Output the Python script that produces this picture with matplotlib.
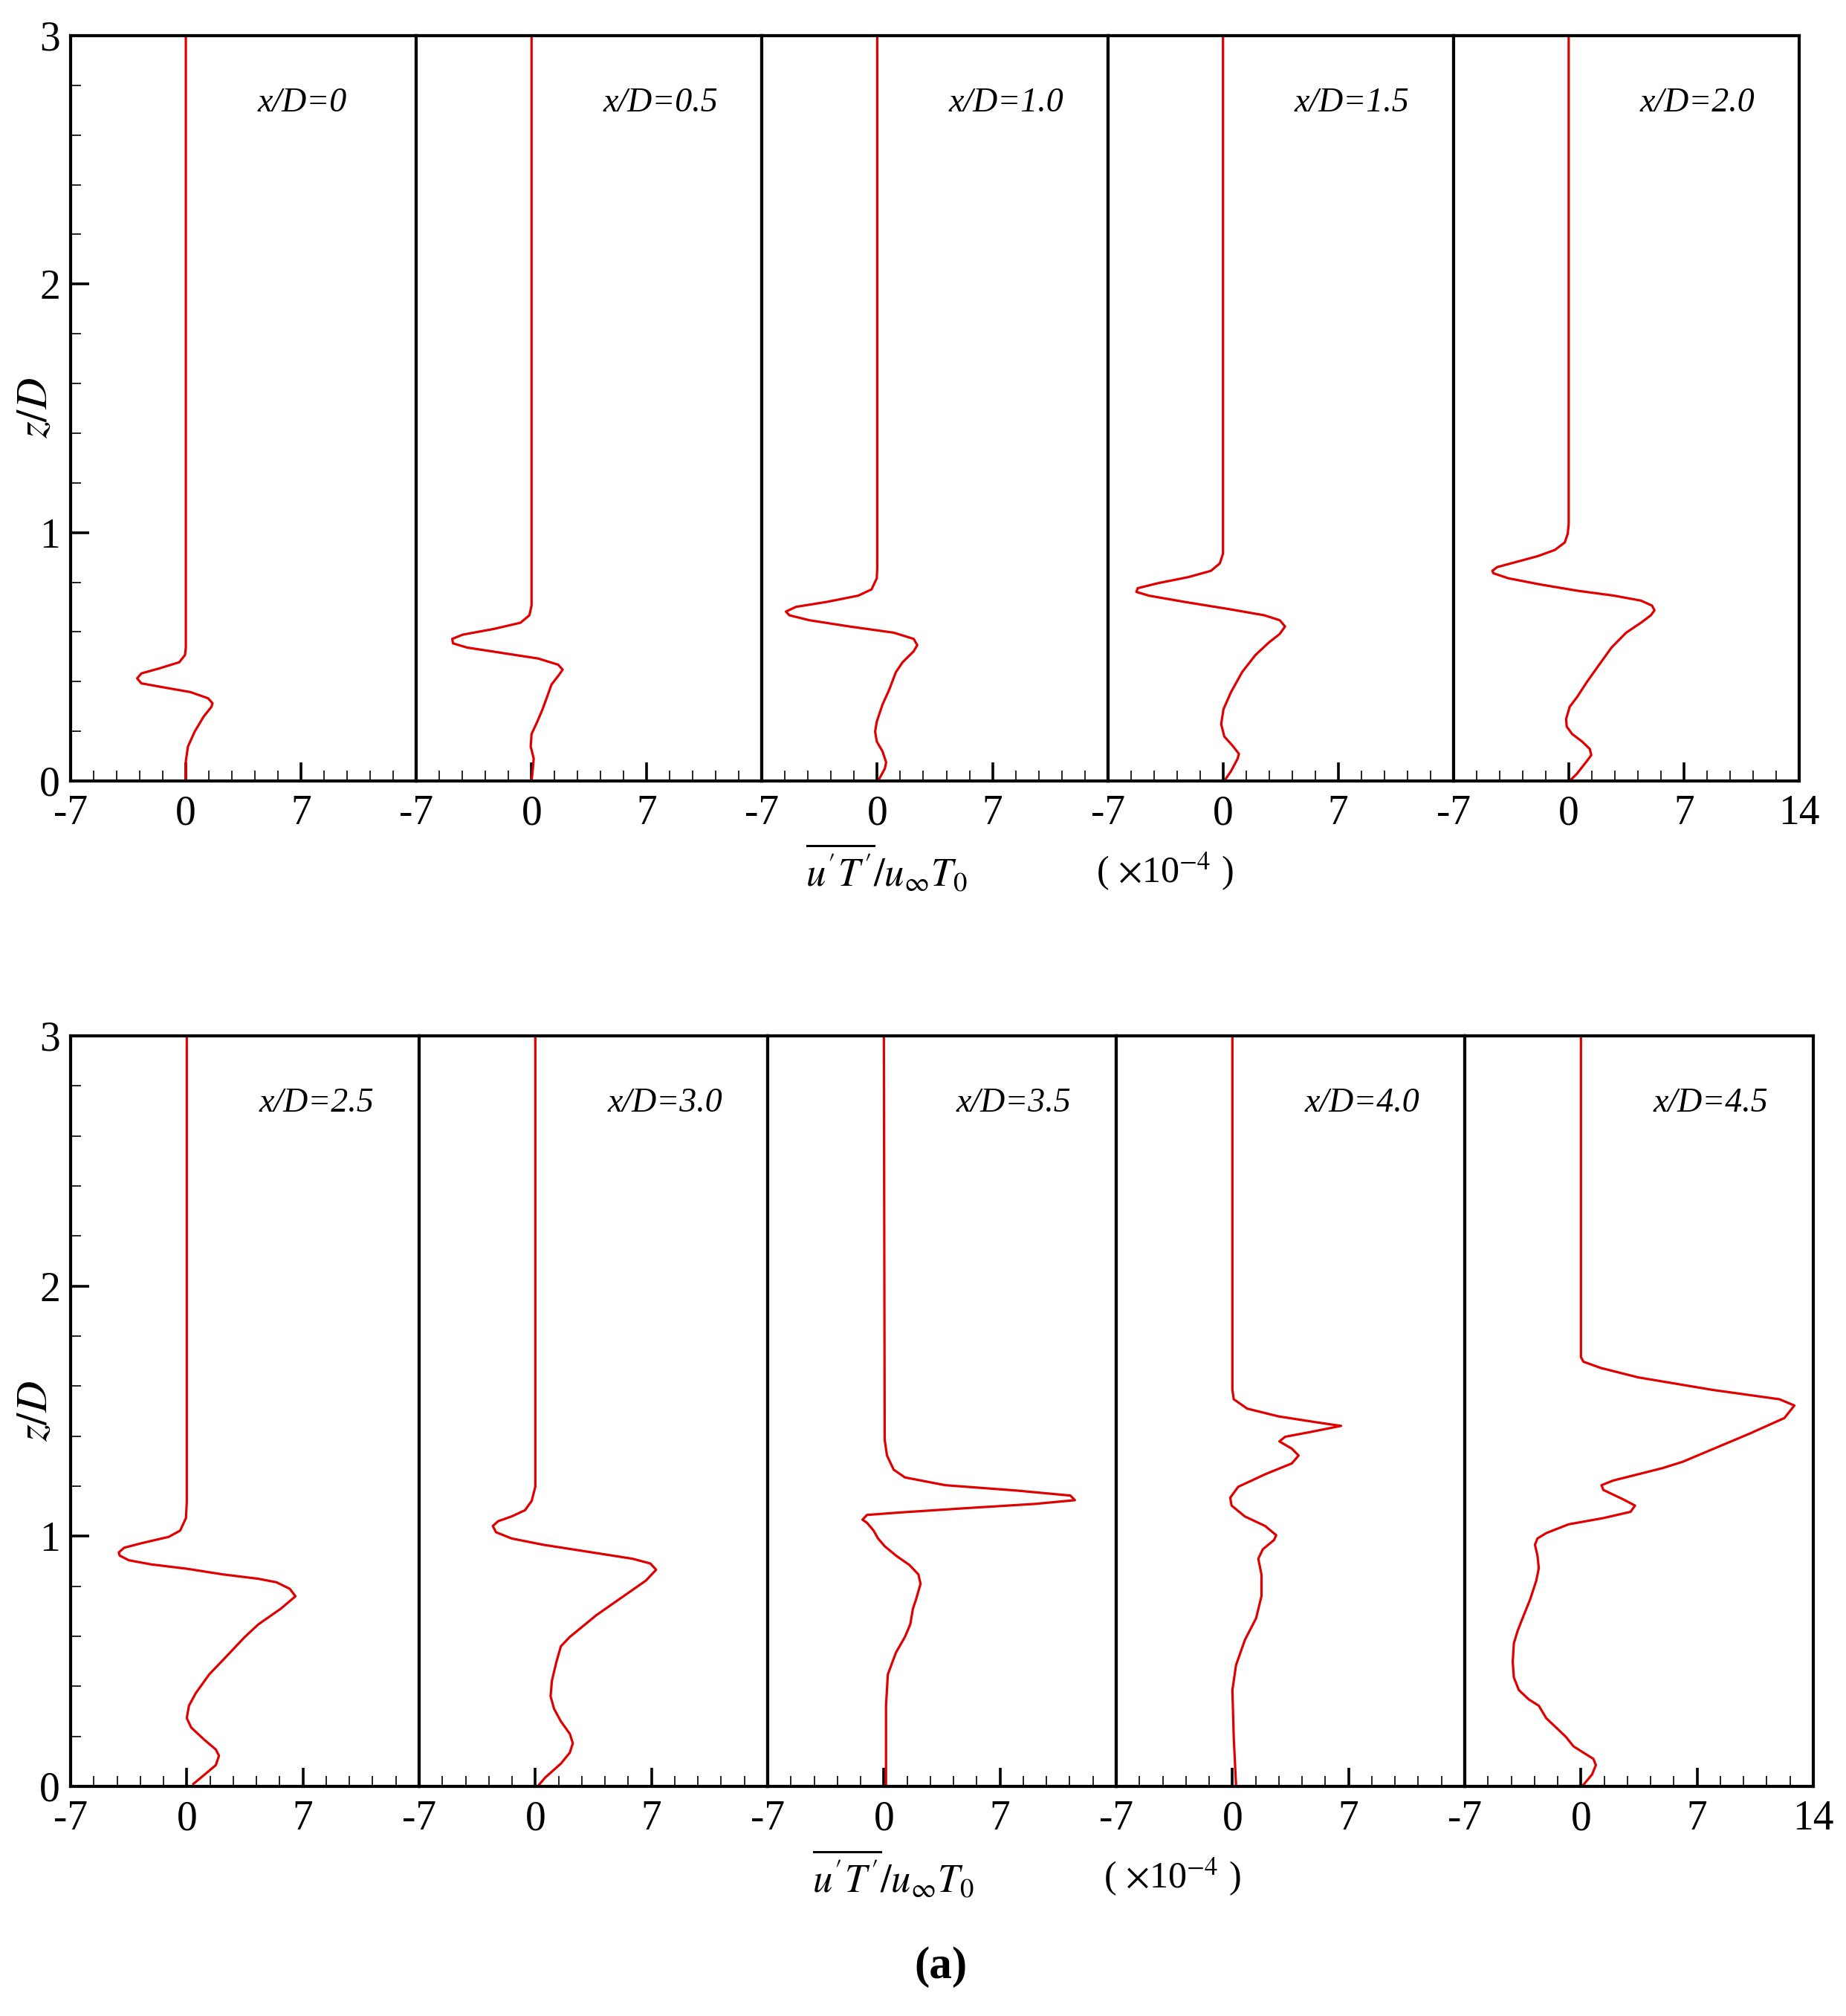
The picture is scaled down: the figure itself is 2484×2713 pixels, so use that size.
import matplotlib
matplotlib.use("Agg")
import matplotlib.pyplot as plt
from matplotlib.ticker import MultipleLocator, NullLocator, FixedLocator

plt.rcParams['font.family'] = ['Liberation Serif', 'DejaVu Serif']
plt.rcParams['mathtext.fontset'] = 'stix'
plt.rcParams['axes.unicode_minus'] = False

# ---------------- data (values in units of 1e-4, z/D) ----------------
labels = ["x/D=0", "x/D=0.5", "x/D=1.0", "x/D=1.5", "x/D=2.0",
          "x/D=2.5", "x/D=3.0", "x/D=3.5", "x/D=4.0", "x/D=4.5"]

z1 = [0.0, 0.08, 0.139, 0.199, 0.259, 0.299, 0.313, 0.333, 0.358, 0.38, 0.393, 0.413, 0.433, 0.453, 0.478, 0.507, 0.537, 3.0]
v1 = [0.0, 0.0, 0.13, 0.54, 1.08, 1.56, 1.62, 1.35, 0.27, -1.62, -2.7, -2.96, -2.7, -1.62, -0.4, -0.05, 0.0, 0.0]

z2 = [0.0, 0.05, 0.09, 0.139, 0.189, 0.239, 0.289, 0.338, 0.388, 0.423, 0.448, 0.468, 0.493, 0.515, 0.537, 0.554,
      0.572, 0.589, 0.612, 0.637, 0.667, 0.706, 3.0]
v2 = [0.0, 0.08, 0.13, -0.05, 0.0, 0.35, 0.67, 0.94, 1.21, 1.62, 1.89, 1.62, 0.4, -1.75, -3.91, -4.77,
      -4.82, -4.18, -2.29, -0.67, -0.13, 0.0, 0.0]

z3 = [0.0, 0.05, 0.075, 0.119, 0.159, 0.199, 0.239, 0.308, 0.368, 0.438, 0.478, 0.522, 0.547, 0.572, 0.597, 0.622,
      0.647, 0.667, 0.682, 0.701, 0.721, 0.746, 0.771, 0.816, 0.856, 3.0]
v3 = [0.05, 0.46, 0.54, 0.32, -0.03, -0.13, -0.03, 0.32, 0.73, 1.13, 1.54, 2.21, 2.43, 2.21, 1.0, -1.7,
      -4.12, -5.34, -5.55, -4.93, -3.05, -1.16, -0.35, -0.03, 0.0, 0.0]

z4 = [0.0, 0.04, 0.09, 0.109, 0.139, 0.179, 0.229, 0.289, 0.358, 0.438, 0.507, 0.557, 0.592, 0.622, 0.647, 0.667,
      0.692, 0.721, 0.746, 0.761, 0.776, 0.796, 0.821, 0.846, 0.876, 0.915, 3.0]
v4 = [0.08, 0.49, 0.89, 0.97, 0.62, 0.08, -0.11, 0.03, 0.49, 1.16, 1.97, 2.78, 3.45, 3.77, 3.45, 2.51,
      0.35, -2.35, -4.5, -5.26, -5.18, -3.96, -2.08, -0.73, -0.19, 0.0, 0.0]

z5 = [0.005, 0.03, 0.08, 0.104, 0.129, 0.159, 0.189, 0.219, 0.249, 0.2985, 0.338, 0.398, 0.468, 0.537, 0.597, 0.637,
      0.667, 0.687, 0.706, 0.726, 0.746, 0.766, 0.791, 0.816, 0.836, 0.846, 0.861, 0.881, 0.905, 0.93, 0.96, 0.995,
      1.035, 3.0]
v5 = [0.13, 0.51, 1.1, 1.37, 1.28, 0.81, 0.21, -0.12, -0.16, 0.06, 0.51, 1.1, 1.85, 2.6, 3.49, 4.39,
      4.99, 5.21, 5.06, 4.39, 2.75, 0.51, -1.73, -3.67, -4.57, -4.64, -4.34, -3.22, -1.88, -0.84, -0.24, -0.06,
      0.0, 0.0]

z6 = [0.01, 0.0475, 0.085, 0.1225, 0.1475, 0.185, 0.235, 0.2725, 0.3225, 0.3725, 0.4475, 0.5225, 0.5975, 0.6475,
      0.71, 0.76, 0.79, 0.816, 0.83, 0.8475, 0.87, 0.8875, 0.904, 0.9225, 0.935, 0.954, 0.9725, 0.9975, 1.0225,
      1.0725, 1.135, 3.0]
v6 = [0.4, 1.08, 1.75, 1.94, 1.75, 1.08, 0.27, 0.0, 0.13, 0.54, 1.35, 2.43, 3.5, 4.31,
      5.66, 6.55, 6.2, 5.4, 4.3, 2.16, 0.0, -2.16, -3.5, -4.04, -4.1, -3.77, -2.7, -1.08, -0.4,
      -0.05, 0.0, 0.0]

z7 = [0.004, 0.035, 0.091, 0.135, 0.1725, 0.21, 0.26, 0.31, 0.36, 0.4225, 0.4975, 0.56, 0.5975, 0.685, 0.76, 0.8225,
      0.866, 0.891, 0.91, 0.9325, 0.966, 0.991, 1.016, 1.041, 1.06, 1.079, 1.104, 1.141, 1.1975, 3.0]
v7 = [0.19, 0.59, 1.54, 2.08, 2.26, 2.08, 1.54, 1.13, 0.92, 1.0, 1.27, 1.54, 2.08, 3.69, 5.31, 6.66,
      7.28, 6.93, 5.85, 3.69, 0.46, -1.43, -2.37, -2.56, -2.24, -1.43, -0.62, -0.22, 0.0, 0.0]

z8 = [0.004, 0.3225, 0.4475, 0.535, 0.5975, 0.6475, 0.71, 0.7475, 0.81, 0.8475, 0.885, 0.9225, 0.96, 0.991, 1.0225,
      1.054, 1.066, 1.085, 1.095, 1.1125, 1.129, 1.144, 1.1625, 1.1825, 1.204, 1.235, 1.266, 1.3225, 1.385, 3.0]
v8 = [0.13, 0.13, 0.24, 0.73, 1.27, 1.59, 1.75, 1.94, 2.21, 2.08, 1.54, 0.73, 0.05, -0.35, -0.62,
      -1.02, -1.29, -1.02, 1.0, 5.04, 9.08, 11.51, 11.24, 8.0, 3.69, 1.27, 0.59, 0.19, 0.05, 0.0]

z9 = [0.004, 0.1975, 0.385, 0.485, 0.585, 0.6725, 0.76, 0.8475, 0.91, 0.9475, 0.985, 1.004, 1.041, 1.079, 1.1225,
      1.154, 1.1975, 1.2475, 1.291, 1.3225, 1.35, 1.379, 1.3975, 1.416, 1.441, 1.454, 1.479, 1.51, 1.5475, 1.585, 3.0]
v9 = [0.22, 0.08, 0.0, 0.22, 0.75, 1.43, 1.75, 1.75, 1.56, 1.83, 2.51, 2.64, 1.97, 0.75, -0.05,
      -0.13, 0.35, 1.97, 3.58, 3.99, 3.58, 2.83, 3.18, 4.66, 6.55, 5.2, 2.78, 0.89, 0.08, 0.0, 0.0]

z10 = [0.004, 0.0475, 0.085, 0.11, 0.135, 0.16, 0.1975, 0.235, 0.2725, 0.3225, 0.3475, 0.385, 0.435, 0.4975,
       0.5725, 0.6225, 0.685, 0.7475, 0.8225, 0.8725, 0.9225, 0.966, 0.991, 1.0125, 1.0475,
       1.0725, 1.0975, 1.1225, 1.1475, 1.185, 1.204, 1.2225, 1.2475, 1.2725, 1.2975, 1.3475, 1.41, 1.4725, 1.5225,
       1.5475, 1.585, 1.635, 1.6725, 1.6975, 1.716, 3.0]
v10 = [0.12, 0.67, 0.9, 0.75, 0.15, -0.45, -0.9, -1.49, -2.09, -2.54, -3.14, -3.74, -4.04, -4.11,
       -4.04, -3.81, -3.44, -3.06, -2.69, -2.54, -2.62, -2.77, -2.62, -2.09, -0.75,
       1.35, 2.99, 3.26, 2.54, 1.35, 1.24, 1.94, 3.44, 4.93, 6.13, 7.92, 10.16, 12.26, 12.86,
       11.96, 7.92, 3.44, 1.2, 0.15, 0.0, 0.0]

zs = [z1, z2, z3, z4, z5, z6, z7, z8, z9, z10]
vs = [v1, v2, v3, v4, v5, v6, v7, v8, v9, v10]

xticks = [-7, 0, 7]
xticks_last = [-7, 0, 7, 14]
yticks = [0, 1, 2, 3]

# ---------------- layout ----------------
W, H = 2484, 2713
fig = plt.figure(figsize=(W / 100, H / 100), dpi=100)

rows = [  # left, right, top, bottom in pixels
    (95, 2421, 48, 1051),
    (95, 2440, 1394, 2404),
]

red = '#e00000'
tick_fs = 40

for r, (L, R, T, B) in enumerate(rows):
    pw = (R - L) / 5
    for i in range(5):
        k = r * 5 + i
        ax = fig.add_axes([(L + i * pw) / W, 1 - B / H, pw / W, (B - T) / H])
        ax.plot(vs[k], zs[k], color=red, lw=2.3, solid_joinstyle='round')
        ax.set_xlim(-7, 14)
        ax.set_ylim(0, 3)
        for s in ax.spines.values():
            s.set_linewidth(3.0)
        ax.xaxis.set_major_locator(FixedLocator(xticks_last if i == 4 else xticks))
        ax.xaxis.set_minor_locator(MultipleLocator(1.4))
        ax.tick_params(axis='x', which='major', direction='in', length=18, width=2.6,
                       top=False, labelsize=tick_fs, pad=13)
        ax.tick_params(axis='x', which='minor', direction='in', length=10, width=1.2, top=False)
        if i == 0:
            ax.yaxis.set_major_locator(FixedLocator(yticks))
            ax.yaxis.set_minor_locator(MultipleLocator(0.2))
            ax.tick_params(axis='y', which='major', direction='in', length=18, width=2.6,
                           right=False, labelsize=tick_fs, pad=10)
            ax.tick_params(axis='y', which='minor', direction='in', length=10, width=1.2, right=False)
        else:
            ax.set_yticks([])
            ax.yaxis.set_minor_locator(NullLocator())
        ax.text(0.54, 0.91, labels[k], transform=ax.transAxes, fontsize=33,
                style='italic', ha='left', va='center')

    fig.text(48.5 / W, 1 - (T + 0.5 * (B - T)) / H, r'$z/D$', rotation=90,
             fontsize=42, ha='center', va='center')

xlab = r'$\overline{u^{\prime}T^{\prime}}/u_{\infty}T_{0}$'
unit = r'( $\times$10$^{-4}$ )'
fig.text(1193 / W, 1 - 1168 / H, xlab, fontsize=38, ha='center', va='center')
fig.text(1567 / W, 1 - 1173 / H, unit, fontsize=36, ha='center', va='center')
fig.text(1202 / W, 1 - 2522 / H, xlab, fontsize=38, ha='center', va='center')
fig.text(1577 / W, 1 - 2526 / H, unit, fontsize=36, ha='center', va='center')
fig.text(1266 / W, 1 - 2647 / H, '(a)', fontsize=44, fontweight='bold', ha='center', va='center')

fig.savefig('out.png', dpi=100, facecolor='white')
